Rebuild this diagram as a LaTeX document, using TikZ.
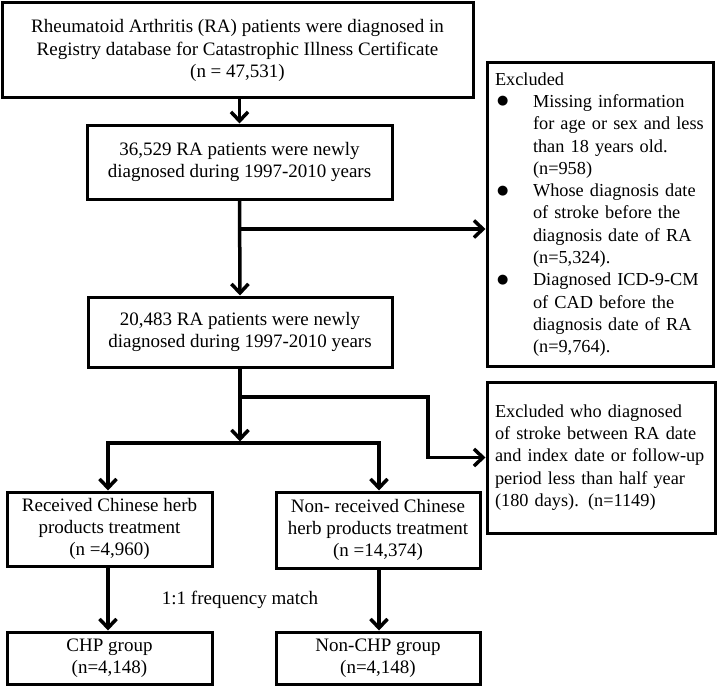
\documentclass[tikz,border=0pt]{standalone}
\usepackage{fontspec}
\setmainfont{Liberation Serif}
\newfontfamily\symfont{DejaVu Sans}
\usetikzlibrary{arrows.meta}
\newcommand{\bul}{\makebox[38pt][l]{\hspace{2pt}\raisebox{2.5pt}{\symfont\fontsize{13}{13}\selectfont ●}}}
\newcommand{\ind}{\hspace*{38pt}}

\begin{document}
\begin{tikzpicture}[x=1pt,y=-1pt]

          \tikzstyle{box} = [draw, line width=3pt, align=center, inner sep=0pt,
                             font=\fontsize{19}{22.3}\selectfont];
          \tikzstyle{sidebox} = [box, align=left, inner xsep=8pt,
                                 font=\fontsize{18.3}{22.3}\selectfont];
          \tikzstyle{arr} = [line width=3.5pt, -{Straight Barb[length=9pt,width=17pt]}];
          \tikzstyle{line} = [line width=3.5pt];

          \useasboundingbox (0,0) rectangle (722,690);

          \node[box, minimum width=471pt, minimum height=95pt] (all) at (237.5,50.5)
            {Rheumatoid Arthritis (RA) patients were diagnosed in\\Registry database for Catastrophic Illness Certificate\\(n = 47,531)};
          \node[box, minimum width=305pt, minimum height=74pt] (new) at (239.5,162)
            {36,529 RA patients were newly\\diagnosed during 1997-2010 years};
          \node[box, minimum width=304pt, minimum height=70pt] (clean) at (240,332)
            {20,483 RA patients were newly\\diagnosed during 1997-2010 years};
          \node[sidebox, text width=210pt, minimum height=303pt] (exclA) at (600,214.5)
            {Excluded\\
             \bul Missing information\\
             \ind for age or sex and less\\
             \ind than 18 years old.\\
             \ind (n=958)\\
             \bul Whose diagnosis date\\
             \ind of stroke before the\\
             \ind diagnosis date of RA\\
             \ind (n=5,324).\\
             \bul Diagnosed ICD-9-CM\\
             \ind of CAD before the\\
             \ind diagnosis date of RA\\
             \ind (n=9,764).};
          \node[sidebox, text width=212pt, minimum height=151pt] (exclB) at (601,457.5)
            {Excluded who diagnosed\\of stroke between RA date\\and index date or follow-up\\period less than half year\\(180 days). (n=1149)};
          \node[box, minimum width=205pt, minimum height=74pt] (chp) at (109.5,529)
            {Received Chinese herb\\products treatment\\(n =4,960)};
          \node[box, minimum width=204pt, minimum height=76pt] (nonchp) at (378,530)
            {Non- received Chinese\\herb products treatment\\(n =14,374)};
          \node[box, minimum width=205pt, minimum height=52pt] (chpG) at (109.5,658)
            {CHP group\\(n=4,148)};
          \node[box, minimum width=204pt, minimum height=52pt] (nonchpG) at (378,658)
            {Non-CHP group\\(n=4,148)};
          \node[font=\fontsize{19}{22.3}\selectfont] (match) at (240,600) {1:1 frequency match};

          \coordinate (b1) at (240,229);
          \coordinate (b2) at (240,397);
          \coordinate (k2) at (428,397);
          \coordinate (split) at (240,443);
          \coordinate (sL) at (108,443);
          \coordinate (sR) at (379,443);

          \draw[arr] (all.south -| new.north) -- (new.north);
          \draw[arr] (new.south) -- (clean.north);
          \draw[arr] (b1) -- (b1 -| exclA.west);
          \draw[arr] (clean.south) -- ([yshift=1.5pt]split);
          \draw[arr] (b2) -- (k2) |- (exclB.west);
          \draw[line] ([xshift=-1.75pt]sL) -- ([xshift=1.75pt]sR);
          \draw[arr] (sL) -- (chp.north -| sL);
          \draw[arr] (sR) -- (nonchp.north -| sR);
          \draw[arr] (chp.south -| sL) -- (chpG.north -| sL);
          \draw[arr] (nonchp.south -| sR) -- (nonchpG.north -| sR);
        \end{tikzpicture}
\end{document}
